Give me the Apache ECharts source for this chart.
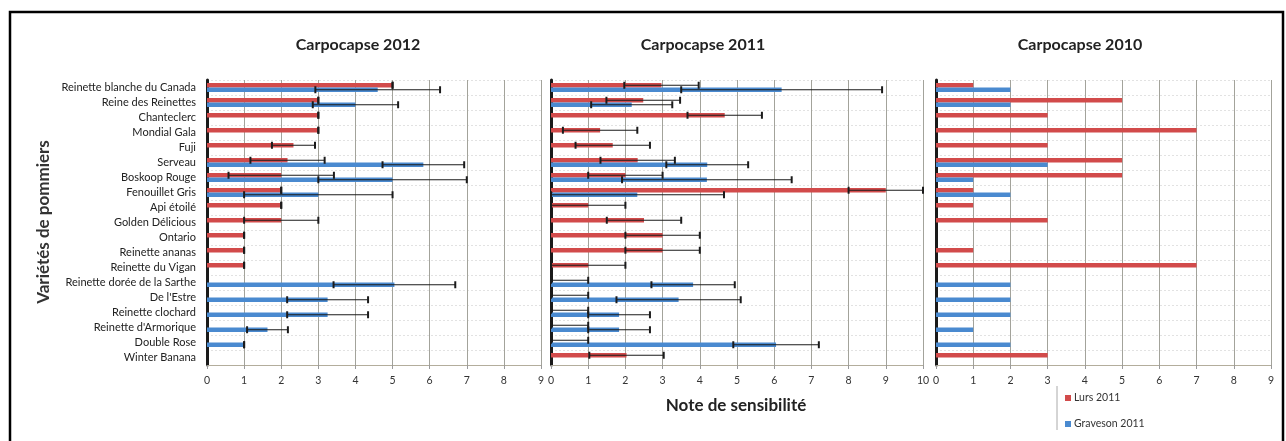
<!DOCTYPE html>
<html lang="fr" style="height: 100%">
<head>
    <meta charset="utf-8">
</head>
<body style="height: 100%; margin: 0; background: #fff">
<div id="container" style="width: 1286px; height: 441px"></div>

<script type="text/javascript" src="https://cdn.jsdelivr.net/npm/echarts@6/dist/echarts.min.js"></script>
<script type="text/javascript">
    // Variétés (de haut en bas)
    var categories = [
      'Reinette blanche du Canada', 'Reine des Reinettes', 'Chanteclerc', 'Mondial Gala', 'Fuji',
      'Serveau', 'Boskoop Rouge', 'Fenouillet Gris', 'Api étoilé', 'Golden Délicious', 'Ontario',
      'Reinette ananas', 'Reinette du Vigan', 'Reinette dorée de la Sarthe', "De l'Estre",
      'Reinette clochard', "Reinette d'Armorique", 'Double Rose', 'Winter Banana'
    ];
    var xTicks = ['0', '1', '2', '3', '4', '5', '6', '7', '8', '9', '10'];

    // Carpocapse 2012
    var lurs2012 = [5, 3, 3, 3, 2.33, 2.17, 2, 2, 2, 2, 1, 1, 1, null, null, null, null, null, null];
    var lurs2012Err = [0, 0, 0, 0, 0.58, 1, 1.42, 0, 0, 1, 0, 0, 0, null, null, null, null, null, null];
    var grav2012 = [4.6, 4, null, null, null, 5.83, 5, 3, null, null, null, null, null, 5.05, 3.25, 3.25, 1.63, 1, null];
    var grav2012Err = [1.68, 1.15, null, null, null, 1.1, 2, 2, null, null, null, null, null, 1.64, 1.09, 1.09, 0.55, 0, null];

    // Carpocapse 2011
    var lurs2011 = [2.97, 2.48, 4.67, 1.32, 1.66, 2.33, 2, 9, 1, 2.5, 3, 3, 1, 0, 0, 0, 0, 0, 2.03];
    var lurs2011Err = [1, 0.99, 1, 1, 1, 1, 1, 1, 1, 1, 1, 1, 1, 1, 1, 1, 1, 1, 1];
    var grav2011 = [6.2, 2.17, null, null, null, 4.2, 4.19, 2.32, null, null, null, null, null, 3.82, 3.43, 1.83, 1.83, 6.05, null];
    var grav2011Err = [2.7, 1.09, null, null, null, 1.1, 2.28, 2.33, null, null, null, null, null, 1.12, 1.67, 0.83, 0.83, 1.15, null];

    // Carpocapse 2010 (pas de barres d'erreur)
    var lurs2010 = [1, 5, 3, 7, 3, 5, 5, 1, 1, 3, null, 1, 7, null, null, null, null, null, 3];
    var grav2010 = [2, 2, null, null, null, 3, 1, 2, null, null, null, null, null, 2, 2, 2, 1, 2, null];

    var panels = [
      { title: 'Carpocapse 2012', max: 9, lurs: lurs2012, lursErr: lurs2012Err, grav: grav2012, gravErr: grav2012Err },
      { title: 'Carpocapse 2011', max: 10, lurs: lurs2011, lursErr: lurs2011Err, grav: grav2011, gravErr: grav2011Err },
      { title: 'Carpocapse 2010', max: 9, lurs: lurs2010, lursErr: null, grav: grav2010, gravErr: null }
    ];

    var RED = '#d24b4b';
    var BLUE = '#4a8ad0';
    var BAR_W = 4.5;
    var FONT = 'Lato, "Open Sans", sans-serif';

    // position des trois graphes (px)
    var boxes = [
      { left: 207, width: 334, titleX: 358 },
      { left: 551, width: 372, titleX: 703 },
      { left: 936, width: 335, titleX: 1080 }
    ];

    function errData(vals, errs, side) {
      var out = [];
      if (!errs) return out;
      vals.forEach(function (v, i) {
        if (v == null || errs[i] == null) return;
        out.push([i, Math.max(0, v - errs[i]), v + errs[i], side]);
      });
      return out;
    }

    function renderErr(params, api) {
      var cat = api.value(0);
      var a = api.coord([api.value(1), cat]);
      var b = api.coord([api.value(2), cat]);
      var y = a[1] + (api.value(3) === 0 ? -BAR_W / 2 : BAR_W / 2);
      var h = 3.5;
      var st = { stroke: '#1b1b1b', lineWidth: 1.2 };
      var cs = { stroke: '#1b1b1b', lineWidth: 2 };
      return {
        type: 'group',
        children: [
          { type: 'line', shape: { x1: a[0], y1: y, x2: b[0], y2: y }, style: st },
          { type: 'line', shape: { x1: a[0], y1: y - h, x2: a[0], y2: y + h }, style: cs },
          { type: 'line', shape: { x1: b[0], y1: y - h, x2: b[0], y2: y + h }, style: cs }
        ]
      };
    }

    var grids = [], xAxes = [], yAxes = [], series = [], graphics = [];

    panels.forEach(function (p, k) {
      grids.push({ left: boxes[k].left, width: boxes[k].width, top: 80, height: 285 });
      xAxes.push({
        type: 'value', gridIndex: k, min: 0, max: p.max, interval: 1,
        axisLine: { show: true, lineStyle: { color: '#b3ad9c', width: 1 } },
        axisTick: { show: true, length: 4, lineStyle: { color: '#9a9a9a' } },
        axisLabel: {
          margin: 10, fontSize: 10.5, color: '#333', fontFamily: FONT,
          formatter: function (v) { return xTicks[v]; }
        },
        splitLine: { show: true, lineStyle: { color: '#a3a39b', width: 1 } }
      });
      yAxes.push({
        type: 'category', gridIndex: k, data: categories, inverse: true,
        axisLine: { show: true, lineStyle: { color: '#1a1a1a', width: 3 } },
        axisTick: { show: false },
        axisLabel: { show: k === 0, margin: 11, fontSize: 11, color: '#222', fontFamily: FONT, interval: 0 },
        splitLine: { show: true, lineStyle: { color: '#e2e2e2', width: 1, type: [2, 2] } }
      });
      series.push({
        name: 'Lurs 2011', type: 'bar', xAxisIndex: k, yAxisIndex: k,
        data: p.lurs, barWidth: BAR_W, barGap: '0%', itemStyle: { color: RED }
      });
      series.push({
        name: 'Graveson 2011', type: 'bar', xAxisIndex: k, yAxisIndex: k,
        data: p.grav, barWidth: BAR_W, barGap: '0%', itemStyle: { color: BLUE }
      });
      var err = errData(p.lurs, p.lursErr, 0).concat(errData(p.grav, p.gravErr, 1));
      if (err.length) {
        series.push({
          name: 'erreur ' + k, type: 'custom', xAxisIndex: k, yAxisIndex: k,
          renderItem: renderErr, encode: { x: [1, 2], y: 0 }, data: err, z: 5
        });
      }
      graphics.push({
        type: 'text', x: boxes[k].titleX, y: 45,
        style: {
          text: p.title, textAlign: 'center', textVerticalAlign: 'middle',
          font: 'bold 16px ' + FONT, fill: '#222'
        }
      });
    });

    graphics.push(
      {
        type: 'rect', shape: { x: 10, y: 12, width: 1273, height: 470 },
        style: { fill: 'none', stroke: '#000', lineWidth: 2.5 }
      },
      {
        type: 'text', x: 44, y: 222, rotation: Math.PI / 2,
        style: {
          text: 'Variétés de pommiers', textAlign: 'center', textVerticalAlign: 'middle',
          font: 'bold 17px ' + FONT, fill: '#333'
        }
      },
      {
        type: 'text', x: 736, y: 406,
        style: {
          text: 'Note de sensibilité', textAlign: 'center', textVerticalAlign: 'middle',
          font: 'bold 17px ' + FONT, fill: '#222'
        }
      },
      {
        type: 'line', shape: { x1: 1057, y1: 386, x2: 1057, y2: 430 },
        style: { stroke: '#aaa', lineWidth: 1 }
      }
    );

    var myChart = echarts.init(document.getElementById('container'), null, { renderer: 'canvas' });
    var option = {
      animation: false,
      backgroundColor: '#fff',
      grid: grids,
      xAxis: xAxes,
      yAxis: yAxes,
      series: series,
      legend: {
        data: ['Lurs 2011', 'Graveson 2011'],
        orient: 'vertical', left: 1060, top: 387,
        icon: 'rect', itemWidth: 6, itemHeight: 6, itemGap: 14,
        selectedMode: false,
        textStyle: { fontSize: 10.5, color: '#333', fontFamily: FONT, lineHeight: 12, padding: [0, 0, 0, -2] }
      },
      graphic: graphics
    };
    myChart.setOption(option);

    window.addEventListener('resize', myChart.resize);
</script>
</body>
</html>
